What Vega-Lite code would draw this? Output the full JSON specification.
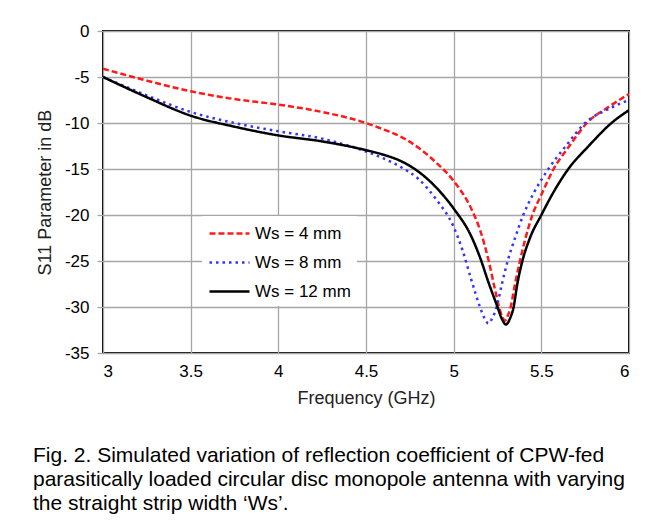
{
  "$schema": "https://vega.github.io/schema/vega-lite/v6.json",
  "width": 526,
  "height": 322,
  "autosize": {"type": "none"},
  "padding": {"left": 103, "top": 31, "right": 35, "bottom": 178},
  "background": "white",
  "title": {
    "text": ["Fig. 2. Simulated variation of reflection coefficient of CPW-fed", "parasitically loaded circular disc monopole antenna with varying", "the straight strip width ‘Ws’."],
    "orient": "bottom",
    "anchor": "start",
    "frame": "group",
    "dx": -70,
    "offset": 38,
    "font": "Liberation Sans",
    "fontSize": 21,
    "fontWeight": "normal",
    "lineHeight": 24,
    "color": "#000000"
  },
  "data": {
    "values": [
      {"ws": "Ws = 4 mm", "f": 3.0, "s11": -4.1},
      {"ws": "Ws = 4 mm", "f": 3.25, "s11": -5.4},
      {"ws": "Ws = 4 mm", "f": 3.5, "s11": -6.55},
      {"ws": "Ws = 4 mm", "f": 3.75, "s11": -7.4},
      {"ws": "Ws = 4 mm", "f": 4.0, "s11": -8.0},
      {"ws": "Ws = 4 mm", "f": 4.25, "s11": -8.8},
      {"ws": "Ws = 4 mm", "f": 4.5, "s11": -10.0},
      {"ws": "Ws = 4 mm", "f": 4.6, "s11": -10.7},
      {"ws": "Ws = 4 mm", "f": 4.7, "s11": -11.5},
      {"ws": "Ws = 4 mm", "f": 4.8, "s11": -12.7},
      {"ws": "Ws = 4 mm", "f": 4.9, "s11": -14.3},
      {"ws": "Ws = 4 mm", "f": 5.0, "s11": -16.3},
      {"ws": "Ws = 4 mm", "f": 5.1, "s11": -19.3},
      {"ws": "Ws = 4 mm", "f": 5.15, "s11": -21.6},
      {"ws": "Ws = 4 mm", "f": 5.2, "s11": -25.0},
      {"ws": "Ws = 4 mm", "f": 5.23, "s11": -27.6},
      {"ws": "Ws = 4 mm", "f": 5.259, "s11": -30.0},
      {"ws": "Ws = 4 mm", "f": 5.278, "s11": -31.1},
      {"ws": "Ws = 4 mm", "f": 5.292, "s11": -31.5},
      {"ws": "Ws = 4 mm", "f": 5.305, "s11": -31.1},
      {"ws": "Ws = 4 mm", "f": 5.325, "s11": -30.0},
      {"ws": "Ws = 4 mm", "f": 5.35, "s11": -27.5},
      {"ws": "Ws = 4 mm", "f": 5.378, "s11": -25.0},
      {"ws": "Ws = 4 mm", "f": 5.41, "s11": -22.5},
      {"ws": "Ws = 4 mm", "f": 5.449, "s11": -20.0},
      {"ws": "Ws = 4 mm", "f": 5.5, "s11": -17.8},
      {"ws": "Ws = 4 mm", "f": 5.57, "s11": -15.0},
      {"ws": "Ws = 4 mm", "f": 5.66, "s11": -12.5},
      {"ws": "Ws = 4 mm", "f": 5.76, "s11": -10.0},
      {"ws": "Ws = 4 mm", "f": 5.88, "s11": -8.3},
      {"ws": "Ws = 4 mm", "f": 6.0, "s11": -6.85},

      {"ws": "Ws = 8 mm", "f": 3.0, "s11": -5.0},
      {"ws": "Ws = 8 mm", "f": 3.25, "s11": -7.0},
      {"ws": "Ws = 8 mm", "f": 3.5, "s11": -8.8},
      {"ws": "Ws = 8 mm", "f": 3.75, "s11": -10.0},
      {"ws": "Ws = 8 mm", "f": 4.0, "s11": -10.9},
      {"ws": "Ws = 8 mm", "f": 4.25, "s11": -11.7},
      {"ws": "Ws = 8 mm", "f": 4.5, "s11": -13.1},
      {"ws": "Ws = 8 mm", "f": 4.6, "s11": -13.85},
      {"ws": "Ws = 8 mm", "f": 4.7, "s11": -14.8},
      {"ws": "Ws = 8 mm", "f": 4.8, "s11": -16.1},
      {"ws": "Ws = 8 mm", "f": 4.9, "s11": -18.3},
      {"ws": "Ws = 8 mm", "f": 5.0, "s11": -21.3},
      {"ws": "Ws = 8 mm", "f": 5.05, "s11": -23.8},
      {"ws": "Ws = 8 mm", "f": 5.1, "s11": -27.0},
      {"ws": "Ws = 8 mm", "f": 5.15, "s11": -30.0},
      {"ws": "Ws = 8 mm", "f": 5.178, "s11": -31.3},
      {"ws": "Ws = 8 mm", "f": 5.198, "s11": -31.8},
      {"ws": "Ws = 8 mm", "f": 5.218, "s11": -31.3},
      {"ws": "Ws = 8 mm", "f": 5.245, "s11": -30.0},
      {"ws": "Ws = 8 mm", "f": 5.275, "s11": -27.5},
      {"ws": "Ws = 8 mm", "f": 5.308, "s11": -25.0},
      {"ws": "Ws = 8 mm", "f": 5.35, "s11": -22.5},
      {"ws": "Ws = 8 mm", "f": 5.397, "s11": -20.0},
      {"ws": "Ws = 8 mm", "f": 5.46, "s11": -17.5},
      {"ws": "Ws = 8 mm", "f": 5.54, "s11": -15.0},
      {"ws": "Ws = 8 mm", "f": 5.64, "s11": -12.5},
      {"ws": "Ws = 8 mm", "f": 5.749, "s11": -10.0},
      {"ws": "Ws = 8 mm", "f": 5.87, "s11": -8.6},
      {"ws": "Ws = 8 mm", "f": 6.0, "s11": -7.5},

      {"ws": "Ws = 12 mm", "f": 3.0, "s11": -5.0},
      {"ws": "Ws = 12 mm", "f": 3.25, "s11": -7.2},
      {"ws": "Ws = 12 mm", "f": 3.5, "s11": -9.2},
      {"ws": "Ws = 12 mm", "f": 3.75, "s11": -10.4},
      {"ws": "Ws = 12 mm", "f": 4.0, "s11": -11.35},
      {"ws": "Ws = 12 mm", "f": 4.25, "s11": -12.0},
      {"ws": "Ws = 12 mm", "f": 4.5, "s11": -12.95},
      {"ws": "Ws = 12 mm", "f": 4.6, "s11": -13.45},
      {"ws": "Ws = 12 mm", "f": 4.7, "s11": -14.15},
      {"ws": "Ws = 12 mm", "f": 4.8, "s11": -15.3},
      {"ws": "Ws = 12 mm", "f": 4.9, "s11": -17.0},
      {"ws": "Ws = 12 mm", "f": 5.0, "s11": -19.3},
      {"ws": "Ws = 12 mm", "f": 5.1, "s11": -22.3},
      {"ws": "Ws = 12 mm", "f": 5.15, "s11": -24.6},
      {"ws": "Ws = 12 mm", "f": 5.2, "s11": -27.4},
      {"ws": "Ws = 12 mm", "f": 5.25, "s11": -30.0},
      {"ws": "Ws = 12 mm", "f": 5.275, "s11": -31.3},
      {"ws": "Ws = 12 mm", "f": 5.298, "s11": -31.9},
      {"ws": "Ws = 12 mm", "f": 5.32, "s11": -31.3},
      {"ws": "Ws = 12 mm", "f": 5.342, "s11": -30.0},
      {"ws": "Ws = 12 mm", "f": 5.363, "s11": -27.5},
      {"ws": "Ws = 12 mm", "f": 5.392, "s11": -25.0},
      {"ws": "Ws = 12 mm", "f": 5.435, "s11": -22.5},
      {"ws": "Ws = 12 mm", "f": 5.5, "s11": -20.0},
      {"ws": "Ws = 12 mm", "f": 5.57, "s11": -17.5},
      {"ws": "Ws = 12 mm", "f": 5.654, "s11": -15.0},
      {"ws": "Ws = 12 mm", "f": 5.77, "s11": -12.5},
      {"ws": "Ws = 12 mm", "f": 5.9, "s11": -10.0},
      {"ws": "Ws = 12 mm", "f": 6.0, "s11": -8.6}
    ]
  },
  "mark": {"type": "line", "interpolate": "monotone", "strokeWidth": 2.5, "clip": true},
  "encoding": {
    "x": {
      "field": "f", "type": "quantitative",
      "scale": {"domain": [3, 6], "nice": false},
      "axis": {
        "title": "Frequency (GHz)",
        "values": [3, 3.5, 4, 4.5, 5, 5.5, 6],
        "labelExpr": "datum.value",
        "ticks": false,
        "labelPadding": 10,
        "titlePadding": 10
      }
    },
    "y": {
      "field": "s11", "type": "quantitative",
      "scale": {"domain": [-35, 0], "nice": false},
      "axis": {
        "title": "S11 Parameter in dB",
        "values": [-35, -30, -25, -20, -15, -10, -5, 0],
        "labelExpr": "datum.value",
        "ticks": true,
        "tickSize": 6,
        "labelPadding": 8,
        "titlePadding": 10
      }
    },
    "color": {
      "field": "ws", "type": "nominal",
      "scale": {"domain": ["Ws = 4 mm", "Ws = 8 mm", "Ws = 12 mm"], "range": ["#ff1a1a", "#3333ff", "#000000"]},
      "title": null
    },
    "strokeDash": {
      "field": "ws", "type": "nominal",
      "scale": {"domain": ["Ws = 4 mm", "Ws = 8 mm", "Ws = 12 mm"], "range": [[6, 3], [2.5, 4], [1, 0]]},
      "title": null
    }
  },
  "config": {
    "font": "Liberation Sans",
    "view": {"stroke": "#000000", "strokeWidth": 2},
    "axis": {
      "domain": false,
      "grid": true,
      "gridColor": "#a6a6a6",
      "gridWidth": 1.3,
      "tickColor": "#a6a6a6",
      "tickWidth": 1.3,
      "labelFont": "Liberation Sans",
      "labelFontSize": 17,
      "labelColor": "#000000",
      "titleFont": "Liberation Sans",
      "titleFontSize": 18,
      "titleFontWeight": "normal",
      "titleColor": "#222222"
    },
    "legend": {
      "orient": "none",
      "legendX": 99,
      "legendY": 185,
      "fillColor": "white",
      "padding": 6,
      "symbolType": "M-1,0H3",
      "symbolSize": 400,
      "symbolStrokeWidth": 2.5,
      "labelFont": "Liberation Sans",
      "labelFontSize": 17,
      "labelColor": "#000000",
      "labelOffset": 24,
      "rowPadding": 9
    }
  }
}
